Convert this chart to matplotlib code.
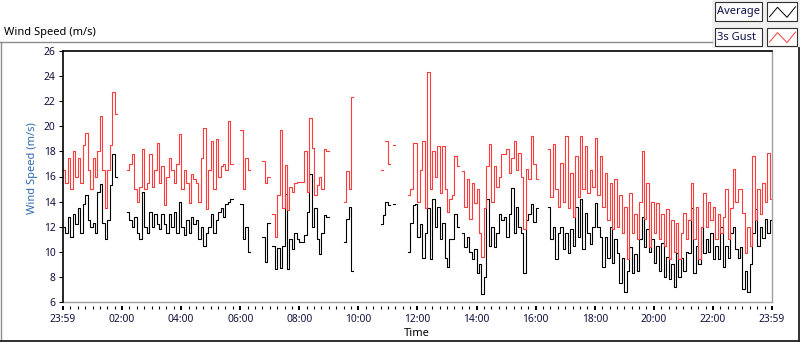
import numpy as np
import matplotlib
matplotlib.use('Agg')
import matplotlib.pyplot as plt
from matplotlib.lines import Line2D
from matplotlib.patches import Rectangle

plt.rcParams['font.family'] = ['Noto Sans', 'DejaVu Sans']

N = None
# 5-minute samples from 00:00 to 23:55 (None = no data)
avg = [
    12.0, 11.5, 12.8, 11.2, 13.0, 12.2, 13.5, 11.5, 13.8, 14.5, 12.5, 12.0, 12.3, 11.5, 14.8, 15.4, 12.3, 11.0, 12.5, 15.3, 17.8, 16.0,
    N, N, N, N,
    13.2, 12.5, 12.0, 12.8, 11.5, 11.0, 14.8, 12.0, 11.5, 13.2, 12.0, 13.0, 12.2, 11.8, 13.0, 12.2, 11.5, 13.0, 12.0, 13.2, 11.5,
    14.0, 12.0, 11.3, 12.5, 11.5, 12.8, 12.2, 12.5, 11.0, 12.0, 10.5, 11.5, 12.0, 13.0, 11.5, 12.5, 13.2, 13.5, 12.8, 13.8, 14.0, 14.2,
    N, N, N,
    13.8, 11.0, 12.0, 10.0,
    N, N, N, N, N,
    11.2, 9.2, 12.3, N, 10.5, 8.6, 10.3, 8.7, 10.5, 14.6, 8.6, 11.0, 10.2, 11.5, 11.0, 10.8, 10.8, 11.3, 13.2, 16.2, 12.0, 13.5,
    11.0, 9.8, 11.5, 12.9, 12.8,
    N, N, N, N, N, N,
    10.8, 12.6, 13.6, 8.5,
    N, N, N, N, N, N, N, N, N, N, N,
    12.2, 12.9, 14.0, 13.7, N, 13.8,
    N, N, N, N, N,
    10.0, 12.3, 13.7,
    13.8, 11.2, 12.2, 9.5, 11.5, 13.5, 9.4, 14.2, 12.0, 13.6, 11.0, 12.3, 9.5, 8.8, 11.0, 11.0, 13.0, 12.0, N, 11.5,
    10.4, 11.2, 10.0, 9.4, 10.2, 8.3, 9.0, 6.6, 8.0, 14.2, 10.5, 12.0, 10.4, 11.5, 13.0, 12.5, 12.8, 11.2, 13.0, 15.1,
    11.5, 13.6, 12.0, 11.5, 8.3, 12.5, 13.0, 13.8, 12.4, 13.5,
    N, N, N, N,
    13.6, 11.0, 12.0, 9.4, 11.5, 12.0, 10.2, 11.5, 9.9, 11.8,
    10.5, 13.6, 11.2, 14.2, 10.2, 13.1, 11.5, 10.6, 12.0, 13.9,
    12.0, 11.2, 8.8, 11.2, 9.5, 12.0, 9.1, 11.0, 9.9, 7.5,
    9.5, 6.8, 8.5, 10.4, 8.3, 9.8, 8.5, 11.0, 12.8, 10.4,
    11.8, 10.0, 11.0, 9.1, 10.5, 8.5, 10.7, 8.0, 9.6, 7.8,
    9.0, 7.2, 9.9, 8.0, 9.5, 8.5, 10.0, 9.9, 13.5, 8.3,
    10.5, 9.0, 12.0, 9.9, 11.0, 10.0, 11.5, 9.4, 10.5, 9.4,
    12.0, 8.8, 10.5, 9.5, 11.5, 12.0, 10.2, 9.5, 10.4, 7.0,
    8.5, 6.8, 9.0, 11.5, 13.4, 10.5, 12.0, 11.1, 12.6, 11.5, 12.5,
]
gust = [
    16.5, 15.5, 17.5, 15.0, 18.0, 16.0, 17.5, 15.5, 18.5, 19.5, 16.5, 15.0, 17.5, 16.0, 18.0, 20.8, 16.5, 13.5, 16.5, 18.5, 22.7, 21.0,
    N, N, N, N,
    16.5, 17.0, 17.8, 15.0, 14.0, 15.2, 18.2, 15.0, 15.5, 17.8, 15.2, 16.5, 18.7, 15.5, 16.8, 13.7, 16.0, 17.5, 16.5, 15.5, 17.0,
    19.4, 15.0, 16.5, 15.5, 13.9, 16.2, 15.8, 15.5, 14.0, 17.5, 19.9, 13.4, 16.5, 18.8, 15.0, 19.0, 16.0, 16.8, 17.0, 16.5, 20.4, 17.0,
    N, N, N,
    19.7, 15.0, 17.5, 16.5,
    N, N, N, N, N,
    17.2, 15.5, 16.0, N, 13.0, 11.2, 14.5, 19.7, 13.5, 16.9, 13.3, 15.2, 14.8, 15.5, 15.6, 15.6, 15.6, 18.0, 14.8, 20.7, 18.3, 14.5,
    15.3, 16.0, 15.0, 18.2, 18.0,
    N, N, N, N, N, N,
    14.0, 16.4, 15.0, 22.3,
    N, N, N, N, N, N, N, N, N, N, N,
    16.5, N, 18.8, 17.0, N, 18.5,
    N, N, N, N, N,
    14.5, 15.0, 18.7,
    18.7, 14.0, 16.5, 18.8, 13.5, 24.3, 15.0, 18.0, 16.0, 18.4, 14.7, 18.4, 15.0, 13.2, 14.2, 14.5, 17.6, 16.8, N, 16.4,
    13.6, 15.8, 12.6, 15.5, 13.9, 15.0, 11.5, 9.6, 13.5, 16.8, 18.6, 14.0, 16.8, 15.2, 16.0, 17.8, 17.8, 18.2, 16.3, 17.5,
    18.8, 16.5, 17.9, 16.0, 11.8, 16.6, 15.8, 19.2, 17.0, 15.8,
    N, N, N, N,
    18.2, 14.4, 18.6, 15.0, 13.6, 17.1, 14.0, 19.2, 13.5, 16.3,
    12.8, 17.6, 14.4, 19.2, 15.0, 18.4, 14.7, 16.5, 15.2, 19.1,
    14.5, 17.6, 13.6, 16.3, 12.5, 15.5, 11.8, 15.8, 12.0, 14.5,
    11.5, 13.6, 9.4, 14.7, 11.5, 13.0, 11.0, 14.0, 18.0, 12.6,
    15.5, 10.4, 14.0, 11.5, 13.9, 11.0, 13.0, 10.5, 13.4, 9.4,
    12.5, 10.0, 12.3, 9.4, 11.5, 13.1, 11.0, 12.5, 15.5, 11.0,
    13.6, 9.4, 12.0, 14.7, 12.0, 14.0, 12.5, 13.6, 11.0, 13.0,
    11.5, 12.8, 15.0, 11.0, 13.5, 16.6, 14.0, 15.0, 15.0, 13.1,
    9.9, 12.0, 10.5, 17.6, 12.5, 15.0, 13.0, 15.5, 14.0, 17.9, 14.2,
]
series_names = ['Average', '3s Gust']
series_colors = ['#000000', '#FF3B3B']
y_ticks = [6, 8, 10, 12, 14, 16, 18, 20, 22, 24, 26]
x_tick_labels = ['23:59', '02:00', '04:00', '06:00', '08:00', '10:00', '12:00',
                 '14:00', '16:00', '18:00', '20:00', '22:00', '23:59']

assert len(avg) == 288 and len(gust) == 288

sample_min = 5
start_h = -1 / 60.0
end_h = 24 - 1 / 60.0
t = np.append(np.arange(len(avg)) * sample_min / 60.0, end_h)
avg_a = np.array(avg + [avg[-1]], dtype=float)
gust_a = np.array(gust + [gust[-1]], dtype=float)

W, H = 800, 342
fig = plt.figure(figsize=(W / 100, H / 100), dpi=100)
fig.patch.set_facecolor('white')


def fx(x):
    return x / W


def fy(y):
    return 1 - y / H


ax = fig.add_axes([fx(62.5), fy(302), (771.5 - 62.5) / W, (302 - 51) / H])
ax.set_facecolor('white')
ax.plot(t, avg_a, color=series_colors[0], lw=0.8, drawstyle='steps-post')
ax.plot(t, gust_a, color=series_colors[1], lw=0.8, drawstyle='steps-post')
ax.set_xlim(start_h, end_h)
ax.set_ylim(6, 26)

ax.set_yticks(y_ticks)
ax.set_yticklabels([str(v) for v in y_ticks])
major_x = [start_h] + list(range(2, 24, 2)) + [end_h]
ax.set_xticks(major_x)
ax.set_xticklabels(x_tick_labels)
minor_x = [q / 4 for q in range(1, 96) if q % 8 != 0]
ax.set_xticks(minor_x, minor=True)

tick_color = '#101040'
ax.tick_params(axis='y', direction='out', length=3, width=0.8, color='black',
               labelsize=7.4, labelcolor=tick_color, pad=2)
ax.tick_params(axis='x', which='major', direction='out', length=3, width=1.4,
               color='black', labelsize=7.4, labelcolor=tick_color, pad=2.5)
ax.tick_params(axis='x', which='minor', direction='out', length=2.2, width=0.8, color='black')

for s in ['top', 'left']:
    ax.spines[s].set_color('black')
    ax.spines[s].set_linewidth(1.2)
ax.spines['right'].set_color('#A0A0A0')
ax.spines['right'].set_linewidth(1.0)
ax.spines['bottom'].set_position(('outward', 3))
ax.spines['bottom'].set_visible(False)
ax.plot([0, 1], [0, 0], transform=ax.transAxes, color='#A0A0A0', lw=1.0, clip_on=False)

# titles and labels
fig.text(fx(4), fy(32), 'Wind Speed (m/s)', ha='left', va='center', fontsize=8.0, color='#000000')
fig.text(fx(32), fy(168), 'Wind Speed (m/s)', ha='center', va='center', rotation=90,
         fontsize=8.0, color='#2F6AAE')
fig.text(fx(417), fy(334), 'Time', ha='center', va='center', fontsize=8.0, color='#000000')

# outer frame
fig.add_artist(Line2D([fx(0), fx(712)], [fy(42), fy(42)], color='#8C8C8C', lw=1.0))
fig.add_artist(Line2D([fx(0.5), fx(0.5)], [fy(42), fy(341)], color='#8C8C8C', lw=1.0))
fig.add_artist(Line2D([fx(0), fx(800)], [fy(340.8), fy(340.8)], color='#202020', lw=1.3))
fig.add_artist(Line2D([fx(799.2), fx(799.2)], [fy(48), fy(341)], color='#202020', lw=1.3))

# legend panel
fig.add_artist(Rectangle((fx(712), fy(48)), 88 / W, 48 / H, facecolor='#F0F0F0',
                         edgecolor='none', transform=fig.transFigure))
for k, name in enumerate(series_names):
    y0 = 2.3 + k * 25.3
    fig.add_artist(Rectangle((fx(715), fy(y0 + 18.5)), 47 / W, 18.5 / H, facecolor='#FCFCFC',
                             edgecolor='#303030', lw=0.8, transform=fig.transFigure))
    fig.add_artist(Rectangle((fx(767), fy(y0 + 18.5)), 30 / W, 18.5 / H, facecolor='white',
                             edgecolor='#303030', lw=0.8, transform=fig.transFigure))
    fig.text(fx(717), fy(y0 + 9.5), name, ha='left', va='center', fontsize=8.0, color='#10104A')
    zx = [769.5, 777.5, 787, 795.5]
    zy = [y0 + 14.5, y0 + 5, y0 + 15, y0 + 4.5]
    fig.add_artist(Line2D([fx(v) for v in zx], [fy(v) for v in zy],
                          color=series_colors[k], lw=0.7))

fig.savefig('out.png', dpi=100, facecolor='white')
